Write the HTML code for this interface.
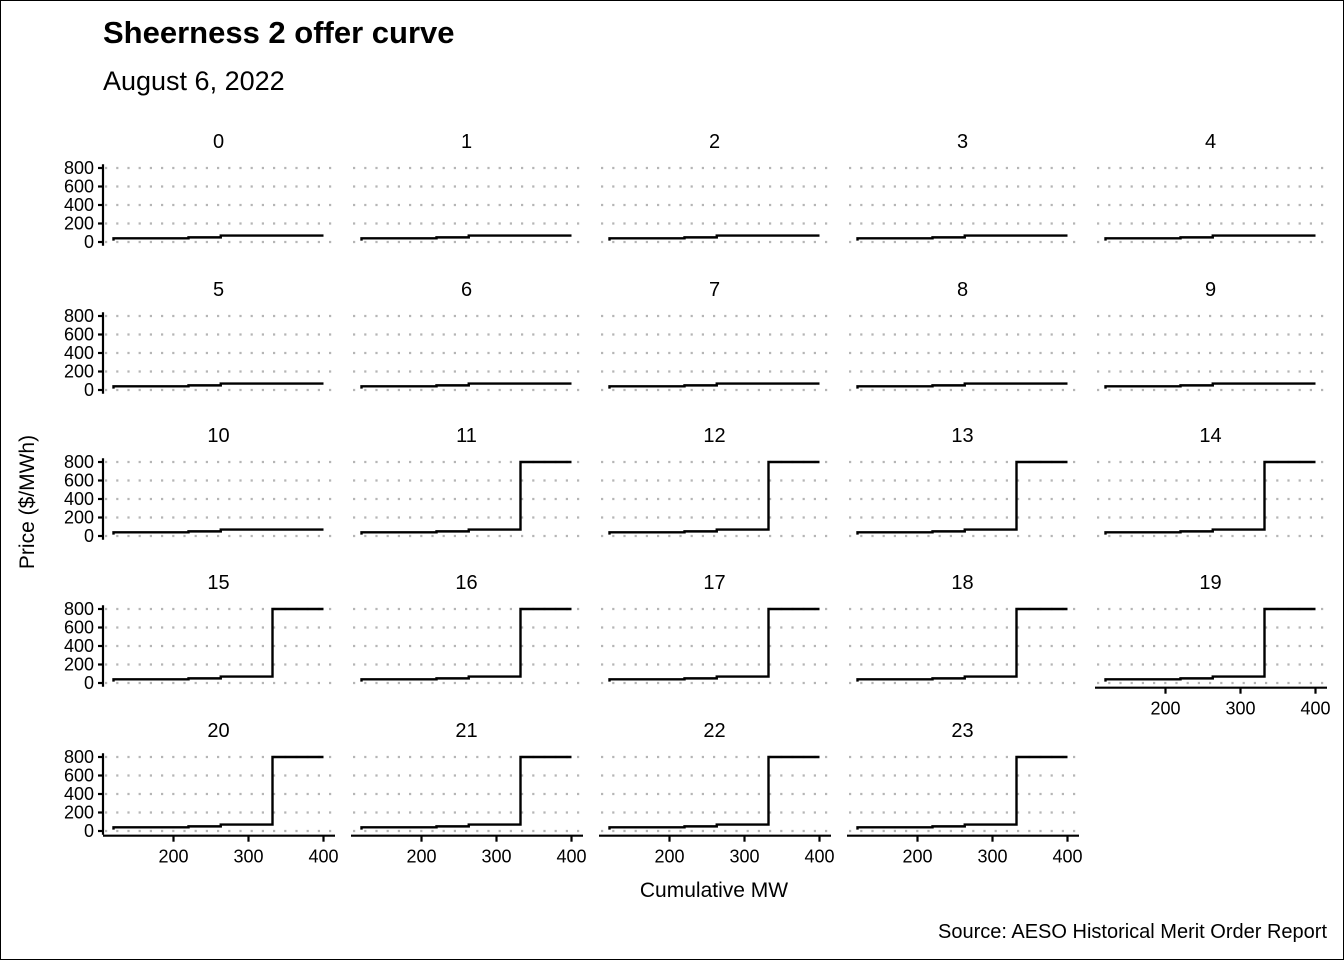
<!DOCTYPE html>
<html><head><meta charset="utf-8"><style>
html,body{margin:0;padding:0;background:#fff;}
svg{display:block;font-family:"Liberation Sans",Arial,sans-serif;}
</style></head><body>
<svg id="chart" width="1344" height="960" viewBox="0 0 1344 960">
<rect x="0.5" y="0.5" width="1343" height="959" fill="#fff" stroke="#000"/>
<text x="103" y="43" font-size="31" font-weight="bold">Sheerness 2 offer curve</text>
<text x="103" y="90" font-size="27">August 6, 2022</text>
<text x="714" y="897" font-size="21" text-anchor="middle">Cumulative MW</text>
<text transform="translate(34,502) rotate(-90)" font-size="21" text-anchor="middle">Price ($/MWh)</text>
<text x="1327" y="938" font-size="20" text-anchor="end">Source: AESO Historical Merit Order Report</text>
<g id="panels"></g>
</svg>
<script>
const hours = [0,1,2,3,4,5,6,7,8,9,10,11,12,13,14,15,16,17,18,19,20,21,22,23];
const mwPoints = [120,120,220,263,332,400];
const basePrices = [15,40,50,70];
const topPrice = [70,70,70,70,70,70,70,70,70,70,70,800,800,800,800,800,800,800,800,800,800,800,800,800];
const yTicks = [0,200,400,600,800];
const xTicks = [200,300,400];

const NS = "http://www.w3.org/2000/svg";
const g = document.getElementById('panels');
function mk(tag, attrs, parent){const e=document.createElementNS(NS,tag);for(const k in attrs)e.setAttribute(k,attrs[k]);(parent||g).appendChild(e);return e;}
const colX0 = 103, colStep = 248, panelW = 231;
const rowZero = [242,390,536,683,831];
const xMin = 106, xMax = 414, yMin = -40, yMax = 840;
const yPer = 74/800;

hours.forEach((h,i)=>{
  const col = i%5, row = Math.floor(i/5);
  const left = colX0 + col*colStep;
  const zero = rowZero[row];
  const sx = v => left + (v - xMin)/(xMax - xMin)*panelW;
  const sy = v => zero - v*yPer;
  const pg = mk('g',{});
  
  
  const st = mk('text',{x:left+panelW/2, y:sy(800)-20, 'font-size':20, 'text-anchor':'middle'},pg);
  
  
  st.textContent = String(h);
  yTicks.forEach(t=>{
    const gl = mk('line',{x1:left+2,x2:left+panelW+6,y1:sy(t),y2:sy(t),stroke:'#b5b5b5','stroke-width':2.2,'stroke-dasharray':'2.2 9'},pg);
    
    
  });
  if(col===0){
    const ya = mk('line',{x1:left,x2:left,y1:sy(yMax),y2:sy(yMin),stroke:'#000','stroke-width':2.2},pg);
    
    
    yTicks.forEach(t=>{
      const tk = mk('line',{x1:left-5,x2:left,y1:sy(t),y2:sy(t),stroke:'#000','stroke-width':2.2},pg);
      
      
      const tl = mk('text',{x:left-9,y:sy(t)+6,'font-size':18,'text-anchor':'end'},pg);
      
      
      tl.textContent = t;
    });
  }
  if(row===4 || h===19){
    const xa = mk('line',{x1:left,x2:left+panelW+1,y1:sy(yMin)+1,y2:sy(yMin)+1,stroke:'#000','stroke-width':2.2},pg);
    
    
    xTicks.forEach(t=>{
      const tk = mk('line',{x1:sx(t),x2:sx(t),y1:sy(yMin)+1,y2:sy(yMin)+7,stroke:'#000','stroke-width':2.2},pg);
      
      
      const tl = mk('text',{x:sx(t),y:sy(yMin)+28,'font-size':18,'text-anchor':'middle'},pg);
      
      
      tl.textContent = t;
    });
  }
  const prices = basePrices.concat([topPrice[i], topPrice[i]]);
  let d = 'M'+sx(mwPoints[0])+','+sy(prices[0]);
  for(let k=1;k<mwPoints.length;k++){
    d += ' H'+sx(mwPoints[k])+' V'+sy(prices[k]);
  }
  const p = mk('path',{d:d,fill:'none',stroke:'#000','stroke-width':2.4},pg);
  
  
});
</script>
</body></html>
